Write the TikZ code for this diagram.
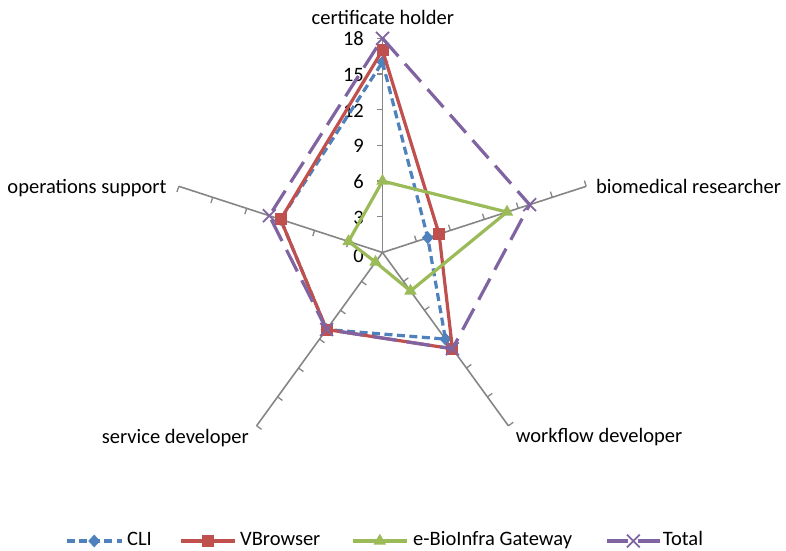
\documentclass[tikz,border=0pt]{standalone}
\usepackage{fontspec}
\setmainfont{Carlito}
\usetikzlibrary{shapes.geometric,shapes.misc}
\definecolor{cliblue}{HTML}{4F81BD}
\definecolor{vbred}{HTML}{C0504D}
\definecolor{gwgreen}{HTML}{9BBB59}
\definecolor{totpurple}{HTML}{8064A2}
\definecolor{axisgray}{HTML}{868686}

\begin{document}
\begin{tikzpicture}[x=1bp,y=1bp,
  font=\fontsize{20.5bp}{24bp}\selectfont,
  axisline/.style={draw=axisgray,line width=1.6bp},
  tickline/.style={draw=axisgray,line width=1.3bp},
  catname/.style={inner sep=0pt,text=black},
  valname/.style={inner sep=0pt,anchor=base east,text=black},
  clistyle/.style={draw=cliblue,line width=3.2bp,dash pattern=on 8bp off 4.5bp,line join=round},
  vbstyle/.style={draw=vbred,line width=3.2bp,line join=round},
  gwstyle/.style={draw=gwgreen,line width=3.2bp,line join=round},
  totstyle/.style={draw=totpurple,line width=3.2bp,dash pattern=on 24bp off 10bp,line join=round},
  climark/.style={diamond,fill=cliblue,inner sep=0pt,minimum width=12bp,minimum height=13bp},
  vbmark/.style={rectangle,fill=vbred,inner sep=0pt,minimum size=12bp},
  gwmark/.style={regular polygon,regular polygon sides=3,fill=gwgreen,inner sep=0pt,minimum size=14.5bp},
  totmark/.style={cross out,draw=totpurple,line width=1.8bp,inner sep=0pt,minimum size=11bp},
  ]
% page background
\path[fill=white] (0,0) rectangle (786,551);
\useasboundingbox (0,0) rectangle (786,551);

\begin{scope}[shift={(382.5,298.5)}]
  \coordinate (O) at (0,0);
  % spokes with tick marks every 3 units (11.9bp per unit)
  \foreach \a/\n in {90/ch,18/br,-54/wd,-126/sd,162/os} {
    \coordinate (ax-\n) at (\a:214.2);
    \draw[axisline] (O) -- (ax-\n);
    \foreach \k in {1,...,6}
      \draw[tickline] (\a:{35.7*\k}) -- ++({\a+90}:6);
  }

  % data points
  \foreach \a/\v/\i in {90/16/1,18/4/2,-54/9/3,-126/8/4,162/9/5}
    \coordinate (cli\i) at (\a:{\v*11.9});
  \foreach \a/\v/\i in {90/17/1,18/5/2,-54/10/3,-126/8/4,162/9/5}
    \coordinate (vb\i) at (\a:{\v*11.9});
  \foreach \a/\v/\i in {90/6/1,18/11/2,-54/4/3,-126/1/4,162/3/5}
    \coordinate (gw\i) at (\a:{\v*11.9});
  \foreach \a/\v/\i in {90/18/1,18/13/2,-54/10/3,-126/8/4,162/10/5}
    \coordinate (tot\i) at (\a:{\v*11.9});
\end{scope}

% value labels on the vertical spoke
\node[valname] (v0) at (364,288) {0};
\foreach \v in {3,6,9,12,15,18}
  \node[valname] (v\v) at (364,{291+11.9*\v}) {\v};

% category labels
\node[catname,anchor=base] (lch) at (382.8,526) {certificate holder};
\node[catname,anchor=base west] (lbr) at (596,357.7) {biomedical researcher};
\node[catname,anchor=base west] (lwd) at (515.7,108.3) {workflow developer};
\node[catname,anchor=base west] (lsd) at (101.7,107.7) {service developer};
\node[catname,anchor=base west] (los) at (7.3,357.7) {operations support};

% series
\draw[clistyle] (cli1) -- (cli2) -- (cli3) -- (cli4) -- (cli5) -- cycle;
\foreach \i in {1,...,5} \node[climark] (mcli\i) at (cli\i) {};
\draw[vbstyle] (vb1) -- (vb2) -- (vb3) -- (vb4) -- (vb5) -- cycle;
\foreach \i in {1,...,5} \node[vbmark] (mvb\i) at (vb\i) {};
\draw[gwstyle] (gw1) -- (gw2) -- (gw3) -- (gw4) -- (gw5) -- cycle;
\foreach \i in {1,...,5} \node[gwmark] (mgw\i) at (gw\i) {};
\draw[totstyle] (tot1) -- (tot2) -- (tot3) -- (tot4) -- (tot5) -- cycle;
\foreach \i in {1,...,5} \node[totmark] (mtot\i) at (tot\i) {};

% legend
\coordinate (lg1a) at (66.7,10);  \coordinate (lg1b) at (121.7,10);
\coordinate (lg2a) at (181,10);   \coordinate (lg2b) at (235,10);
\coordinate (lg3a) at (353,10);   \coordinate (lg3b) at (406.7,10);
\coordinate (lg4a) at (606.7,10); \coordinate (lg4b) at (660,10);
\draw[clistyle] (lg1a) -- (lg1b);
\node[climark] (lgm1) at (94.2,10) {};
\node[catname,anchor=base west] (lgt1) at (127,5) {CLI};
\draw[vbstyle] (lg2a) -- (lg2b);
\node[vbmark] (lgm2) at (208,10) {};
\node[catname,anchor=base west] (lgt2) at (240,5) {VBrowser};
\draw[gwstyle] (lg3a) -- (lg3b);
\node[gwmark] (lgm3) at (379.8,10) {};
\node[catname,anchor=base west] (lgt3) at (413,5) {e-BioInfra Gateway};
\draw[totstyle,dash phase=2.4bp] (lg4a) -- (lg4b);
\node[totmark] (lgm4) at (633.3,10) {};
\node[catname,anchor=base west] (lgt4) at (662.7,5) {Total};
\end{tikzpicture}
\end{document}
